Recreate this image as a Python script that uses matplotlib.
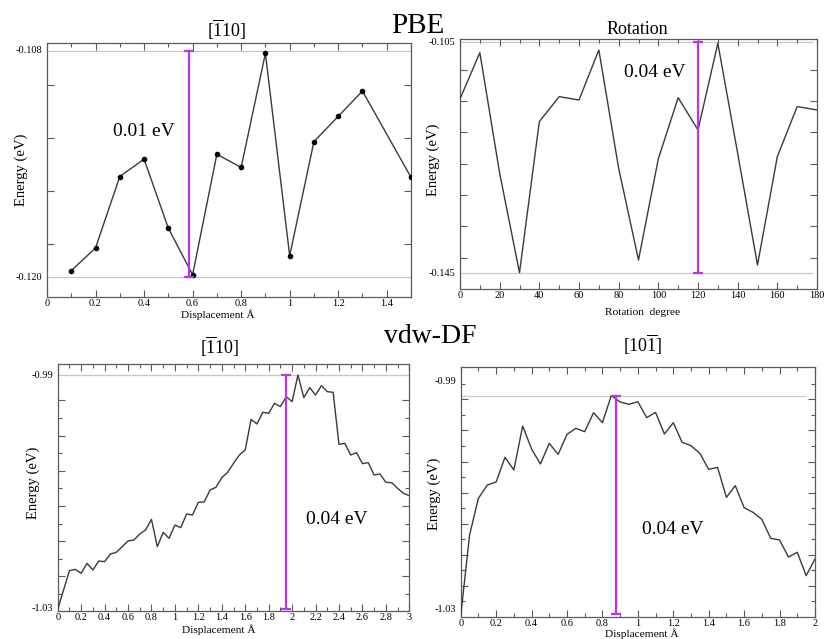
#!/usr/bin/env python3
"""Energy profiles for PBE and vdw-DF (four xmgrace-style panels)."""

import numpy as np
import matplotlib

matplotlib.use("Agg")
import matplotlib.pyplot as plt
from matplotlib.ticker import FuncFormatter, FixedLocator, MultipleLocator

# --- PBE, [-110] displacement ---
pbe_disp_x = [0.1, 0.2, 0.3, 0.4, 0.5, 0.6, 0.7, 0.8, 0.9, 1.0, 1.1, 1.2, 1.3, 1.5]
pbe_disp_e = [-0.11966, -0.11846, -0.11467, -0.11375, -0.11741, -0.11988, -0.11349,
              -0.11419, -0.10814, -0.11887, -0.11282, -0.11148, -0.11014, -0.11471]

# --- PBE, rotation ---
pbe_rot_x = [0, 10, 20, 30, 40, 50, 60, 70, 80, 90, 100, 110, 120, 130, 140, 150, 160, 170, 180]
pbe_rot_e = [-0.11481, -0.10679, -0.12768, -0.14489, -0.11874, -0.11441, -0.11499,
             -0.10633, -0.12682, -0.14269, -0.12517, -0.11459, -0.12018, -0.10517,
             -0.12422, -0.14356, -0.12479, -0.11613, -0.11671]

# --- vdw-DF, [-110] displacement ---
vdw_110_x = [0.0, 0.1, 0.15, 0.2, 0.25, 0.3, 0.35, 0.4, 0.45, 0.5, 0.55, 0.6, 0.65, 0.7,
             0.75, 0.8, 0.85, 0.9, 0.95, 1.0, 1.05, 1.1, 1.15, 1.2, 1.25, 1.3, 1.35, 1.4,
             1.45, 1.5, 1.55, 1.6, 1.65, 1.7, 1.75, 1.8, 1.85, 1.9, 1.95, 2.0, 2.05, 2.1,
             2.15, 2.2, 2.25, 2.3, 2.35, 2.4, 2.45, 2.5, 2.55, 2.6, 2.65, 2.7, 2.75, 2.8,
             2.85, 2.9, 2.95, 3.0]
vdw_110_e = [-1.0301, -1.02349, -1.02326, -1.02394, -1.02223, -1.02337, -1.02183,
             -1.02194, -1.02063, -1.02034, -1.01937, -1.01840, -1.01823, -1.01720,
             -1.01651, -1.01469, -1.01937, -1.01691, -1.01794, -1.01566, -1.01611,
             -1.01377, -1.01394, -1.01177, -1.01171, -1.00966, -1.00920, -1.00754,
             -1.00663, -1.00509, -1.00366, -1.00280, -0.99754, -0.99834, -0.99634,
             -0.99651, -0.99480, -0.99537, -0.99366, -0.99451, -0.98994, -0.99383,
             -0.99211, -0.99337, -0.99177, -0.99280, -0.99291, -1.00183, -1.00166,
             -1.00366, -1.00326, -1.00514, -1.00497, -1.00709, -1.00691, -1.00834,
             -1.00840, -1.00937, -1.01023, -1.01063]

# --- vdw-DF, [10-1] displacement ---
vdw_101_x = [0.0, 0.05, 0.1, 0.15, 0.2, 0.25, 0.3, 0.35, 0.4, 0.45, 0.5, 0.55, 0.6, 0.65,
             0.7, 0.75, 0.8, 0.85, 0.9, 0.95, 1.0, 1.05, 1.1, 1.15, 1.2, 1.25, 1.3, 1.35,
             1.4, 1.45, 1.5, 1.55, 1.6, 1.65, 1.7, 1.75, 1.8, 1.85, 1.9, 1.95, 2.0]
vdw_101_e = [-1.03123, -1.01702, -1.01058, -1.00825, -1.00772, -1.00339, -1.00561,
             -0.99789, -1.00193, -1.00456, -1.00094, -1.00287, -0.99936, -0.99830,
             -0.99889, -0.99556, -0.99731, -0.99257, -0.99368, -0.99409, -0.99363,
             -0.99643, -0.99550, -0.99930, -0.99731, -1.00076, -1.00135, -1.00269,
             -1.00550, -1.00515, -1.01041, -1.00836, -1.01222, -1.01304, -1.01427,
             -1.01760, -1.01789, -1.02088, -1.02005, -1.02415, -1.02123]

# barrier markers: (x, e_top, e_bottom, label)
barrier_pbe_disp = (0.584, -0.108, -0.120, "0.01 eV")
barrier_pbe_rot = (120, -0.105, -0.145, "0.04 eV")
barrier_vdw_110 = (1.945, -0.99, -1.03, "0.04 eV")
barrier_vdw_101 = (0.875, -0.99257, -1.0308, "0.04 eV")

SERIF = "Liberation Serif"
LINE = "#3a3a3a"
SPINE = "#5a5a5a"
REF = "#c8c8c8"
VIOLET = "#b935f2"
W, H = 825, 639


def box(left, top, right, bottom):
    return [left / W, 1 - bottom / H, (right - left) / W, (bottom - top) / H]


def style(ax, xlim, ylim, xmajor, xminor, ymaj, ymin, ylabels, xlabel, xl_pos, yl_pos):
    ax.set_xlim(*xlim)
    ax.set_ylim(*ylim)
    ax.xaxis.set_major_locator(MultipleLocator(xmajor))
    ax.xaxis.set_minor_locator(MultipleLocator(xminor))
    ax.xaxis.set_major_formatter(FuncFormatter(lambda v, p: f"{v:g}"))
    ax.yaxis.set_major_locator(FixedLocator(ymaj))
    ax.yaxis.set_minor_locator(FixedLocator(ymin))
    ax.tick_params(which="both", direction="in", top=True, right=True, color=SPINE, width=0.8)
    ax.tick_params(which="major", length=5)
    ax.tick_params(which="minor", length=2.8)
    ax.tick_params(axis="x", labelsize=7.5, pad=1.5)
    ax.tick_params(axis="y", labelleft=False)
    for lab in ax.get_xticklabels():
        lab.set_family(SERIF)
    for s in ax.spines.values():
        s.set_color(SPINE)
        s.set_linewidth(0.9)
    tr = ax.get_yaxis_transform()
    for val, txt in ylabels:
        ax.text(-0.012, val, txt, transform=tr, ha="right", va="center",
                fontsize=7.5, family=SERIF)
    ax.set_xlabel(xlabel, fontsize=8.2, family=SERIF, labelpad=0)
    ax.xaxis.set_label_coords(*xl_pos)
    ax.set_ylabel("Energy (eV)", fontsize=10.5, family=SERIF)
    ax.yaxis.set_label_coords(*yl_pos)


def barrier(ax, spec, text_xy):
    x, top, bot, label = spec
    ax.plot([x, x], [top, bot], color=VIOLET, lw=1.6, marker="_", ms=7, mew=1.6, zorder=4)
    ax.text(text_xy[0], text_xy[1], label, ha="center", va="baseline",
            fontsize=14, family=SERIF, zorder=5)


def main():
    plt.rcParams.update({
        "font.family": SERIF,
        "mathtext.fontset": "custom",
        "mathtext.rm": SERIF,
        "mathtext.it": SERIF + ":italic",
    })
    fig = plt.figure(figsize=(8.25, 6.39), dpi=100)
    fig.patch.set_facecolor("white")

    # top-left: PBE [-110]
    ax1 = fig.add_axes(box(47, 43, 411, 297))
    ax1.hlines([-0.108, -0.120], 0, 1.5, color=REF, lw=0.9, zorder=1)
    ax1.plot(pbe_disp_x, pbe_disp_e, color=LINE, lw=1.0, marker="o", ms=3,
             mfc="black", mec="black", zorder=3)
    barrier(ax1, barrier_pbe_disp, (0.40, -0.11251))
    style(ax1, (0, 1.5), (-0.12106, -0.10759), 0.2, 0.1,
          -0.10982 - 0.002805 * np.arange(4), [],
          [(-0.108, "-0.108"), (-0.120, "-0.120")],
          "Displacement Å", (0.47, -0.05), (-0.052, 0.5))
    ax1.text(0.495, 1.025, r"$[\overline{1}10]$", transform=ax1.transAxes,
             ha="center", va="baseline", fontsize=13)

    # top-right: PBE rotation
    ax2 = fig.add_axes(box(460, 39.3, 817, 289.3))
    ax2.hlines([-0.105, -0.145], 0, 178, color=REF, lw=0.9, zorder=1)
    ax2.plot(pbe_rot_x, pbe_rot_e, color=LINE, lw=1.0, zorder=3)
    barrier(ax2, barrier_pbe_rot, (98.2, -0.11106))
    style(ax2, (0, 180), (-0.14777, -0.10448), 20, 10,
          -0.10979 - 0.005414 * np.arange(7), [],
          [(-0.105, "-0.105"), (-0.145, "-0.145")],
          "Rotation  degree", (0.51, -0.075), (-0.056, 0.517))
    ax2.text(0.496, 1.021, "Rotation", transform=ax2.transAxes,
             ha="center", va="baseline", fontsize=13)

    # bottom-left: vdw-DF [-110]
    ax3 = fig.add_axes(box(57.7, 364.3, 409.3, 611))
    ax3.hlines([-0.99], 0, 3, color=REF, lw=0.9, zorder=1)
    ax3.plot(vdw_110_x, vdw_110_e, color=LINE, lw=1.0, zorder=3)
    barrier(ax3, barrier_vdw_110, (2.38, -1.01549))
    maj3 = -0.99429 - 0.006034 * np.arange(6)
    style(ax3, (0, 3), (-1.0304, -0.98811), 0.2, 0.1,
          maj3, maj3 - 0.003017,
          [(-0.99, "-0.99"), (-1.03, "-1.03")],
          "Displacement Å", (0.459, -0.055), (-0.050, 0.52))
    ax3.text(0.462, 1.04, r"$[\overline{1}10]$", transform=ax3.transAxes,
             ha="center", va="baseline", fontsize=13)

    # bottom-right: vdw-DF [10-1]
    ax4 = fig.add_axes(box(460.7, 366.7, 815, 616.7))
    ax4.hlines([barrier_vdw_101[1]], 0, 1.95, color=REF, lw=0.9, zorder=1)
    ax4.plot(vdw_101_x, vdw_101_e, color=LINE, lw=1.0, zorder=3)
    barrier(ax4, barrier_vdw_101, (1.195, -1.01684))
    maj4 = -0.99321 - 0.005456 * np.arange(7)
    style(ax4, (0, 2), (-1.03135, -0.98749), 0.2, 0.1,
          maj4, np.append(maj4 + 0.002728, maj4[-1] - 0.002728),
          [(-0.99, "-0.99"), (-1.03, "-1.03")],
          "Displacement Å", (0.511, -0.046), (-0.056, 0.49))
    ax4.text(0.515, 1.06, r"$[10\overline{1}]$", transform=ax4.transAxes,
             ha="center", va="baseline", fontsize=13)

    fig.text(0.507, 0.948, "PBE", ha="center", va="baseline", fontsize=21, family=SERIF)
    fig.text(0.521, 0.4627, "vdw-DF", ha="center", va="baseline", fontsize=20, family=SERIF)

    fig.savefig("out.png", dpi=100, facecolor="white")
    plt.close(fig)


if __name__ == "__main__":
    main()
